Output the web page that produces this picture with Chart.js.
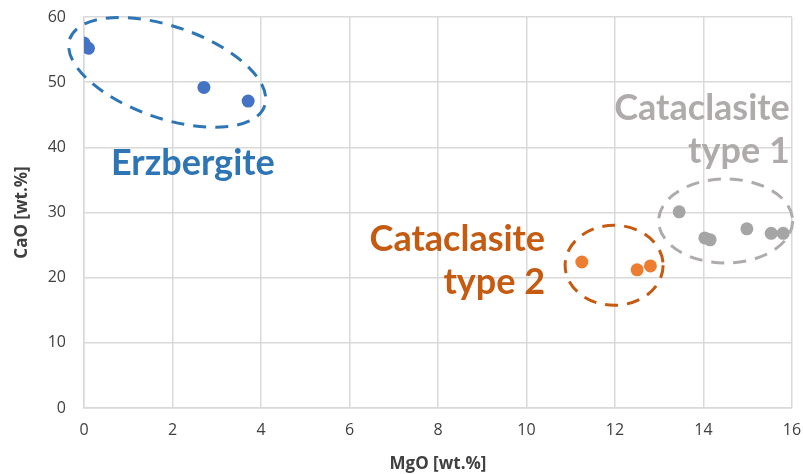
<!DOCTYPE html>
<html lang="en">
<head>
   <meta charset="UTF-8">
   <title>CaO vs MgO</title>
   <style>
      body { margin: 0; background: #fff; }
      .box { width: 803px; height: 474px; }
   </style>
</head>
<body>
   <div class="box"><canvas id="grafico" width="803" height="474"></canvas></div>

<script src="https://cdn.jsdelivr.net/npm/chart.js"></script>
<script>
   // dados
   var erzMgO = [0.0, 0.1, 2.71, 3.71];
   var erzCaO = [56.0, 55.2, 49.2, 47.1];
   var cat2MgO = [11.25, 12.5, 12.8];
   var cat2CaO = [22.4, 21.2, 21.8];
   var cat1MgO = [13.45, 14.03, 14.15, 14.98, 15.53, 15.8];
   var cat1CaO = [30.1, 26.1, 25.8, 27.5, 26.8, 26.8];
   var xTicks = [0, 2, 4, 6, 8, 10, 12, 14, 16];
   var yTicks = [0, 10, 20, 30, 40, 50, 60];

   function pontos(xs, ys) {
      return xs.map(function (x, i) { return { x: x, y: ys[i] }; });
   }

   // elipses tracejadas e rótulos dos grupos
   var elipses = [
      { cx: 1.88, cy: 51.5, rx: 103, ry: 46, ang: 19, cor: "#2E75B6" },
      { cx: 11.98, cy: 21.9, rx: 49, ry: 40, ang: 0, cor: "#C55A11" },
      { cx: 14.5, cy: 28.7, rx: 67, ry: 42, ang: 0, cor: "#AFABAB" }
   ];
   var rotulos = [
      { linhas: ["Erzbergite"], x: 2.46, y: 37.6, align: "center", cor: "#2E75B6" },
      { linhas: ["Cataclasite", "type 2"], x: 10.42, y: 25.8, align: "right", cor: "#C55A11" },
      { linhas: ["Cataclasite", "type 1"], x: 15.95, y: 46.0, align: "right", cor: "#AFABAB" }
   ];

   var anotacoes = {
      id: "anotacoes",
      afterDatasetsDraw: function (chart) {
         var c = chart.ctx, sx = chart.scales.x, sy = chart.scales.y;
         c.save();
         elipses.forEach(function (e) {
            c.beginPath();
            c.setLineDash([13, 9]);
            c.lineWidth = 3;
            c.strokeStyle = e.cor;
            c.ellipse(sx.getPixelForValue(e.cx), sy.getPixelForValue(e.cy), e.rx, e.ry,
               e.ang * Math.PI / 180, 0, Math.PI * 2);
            c.stroke();
         });
         c.setLineDash([]);
         c.font = "bold 36px Lato, 'Open Sans', sans-serif";
         c.textBaseline = "middle";
         rotulos.forEach(function (r) {
            c.fillStyle = r.cor;
            c.textAlign = r.align;
            var px = sx.getPixelForValue(r.x), py = sy.getPixelForValue(r.y);
            r.linhas.forEach(function (l, i) {
               c.fillText(l, px, py + i * 43);
            });
         });
         c.restore();
      }
   };

   var fonteTick = { family: "'Open Sans', sans-serif", size: 16 };
   var fonteTitulo = { family: "'Open Sans', sans-serif", size: 17, weight: "bold" };

   new Chart(document.getElementById("grafico"), {
      type: "scatter",
      data: {
         datasets: [
            { label: "Erzbergite", data: pontos(erzMgO, erzCaO), backgroundColor: "#4472C4", borderColor: "#4472C4" },
            { label: "Cataclasite type 2", data: pontos(cat2MgO, cat2CaO), backgroundColor: "#ED7D31", borderColor: "#ED7D31" },
            { label: "Cataclasite type 1", data: pontos(cat1MgO, cat1CaO), backgroundColor: "#A5A5A5", borderColor: "#A5A5A5" }
         ]
      },
      options: {
         responsive: false,
         animation: false,
         layout: { padding: { top: 17, right: 11, left: 0, bottom: 0 } },
         elements: { point: { radius: 6.5, borderWidth: 0 } },
         plugins: { legend: { display: false }, tooltip: { enabled: false } },
         scales: {
            x: {
               type: "linear", min: 0, max: 16,
               afterBuildTicks: function (s) { s.ticks = xTicks.map(function (v) { return { value: v }; }); },
               afterFit: function (s) { s.height = 66; s.paddingRight = 0; s.paddingLeft = 0; },
               grid: { color: "#D9D9D9", lineWidth: 1.5, drawTicks: false },
               border: { color: "#D9D9D9", width: 1.5 },
               ticks: { color: "#404040", font: fonteTick, padding: 13 },
               title: { display: true, text: "MgO [wt.%]", color: "#404040", font: fonteTitulo, padding: { top: 6, bottom: 0 } }
            },
            y: {
               type: "linear", min: 0, max: 60,
               afterBuildTicks: function (s) { s.ticks = yTicks.map(function (v) { return { value: v }; }); },
               afterFit: function (s) { s.width = 84; s.paddingTop = 0; s.paddingBottom = 0; },
               grid: { color: "#D9D9D9", lineWidth: 1.5, drawTicks: false },
               border: { color: "#D9D9D9", width: 1.5 },
               ticks: { color: "#404040", font: fonteTick, padding: 18 },
               title: { display: true, text: "CaO [wt.%]", color: "#404040", font: fonteTitulo, padding: { top: 12, bottom: 4 } }
            }
         }
      },
      plugins: [anotacoes]
   });
</script>
</body>
</html>
